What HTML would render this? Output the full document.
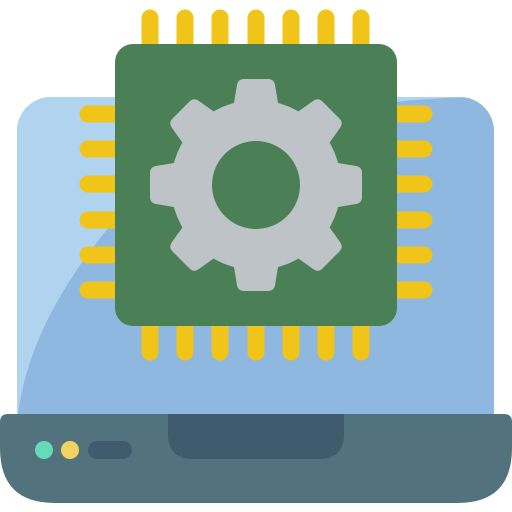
<!DOCTYPE html>
<html><head><style>html,body{margin:0;padding:0;background:#fff}svg{display:block}</style></head>
<body>
<svg width="512" height="512" viewBox="0 0 512 512" xmlns="http://www.w3.org/2000/svg">
<defs><clipPath id="scr"><rect x="17" y="97" width="477" height="360" rx="34"/></clipPath></defs>
<rect x="17" y="97" width="477" height="360" rx="34" fill="#8fb8e0"/>
<path d="M0 97 L470 97 Q210 105 115 220 Q30 320 18 414 L0 414 Z" fill="#b0d3ef" clip-path="url(#scr)"/>
<path d="M8 414 H504 Q512 414 512 422 V448 Q512 503 457 503 H55 Q0 503 0 448 V422 Q0 414 8 414 Z" fill="#52737d"/>
<path d="M168 414 H344 V434 Q344 459 319 459 H193 Q168 459 168 434 Z" fill="#3e5c6d"/>
<circle cx="44" cy="450" r="9" fill="#65dbb8"/>
<circle cx="70" cy="450" r="9" fill="#f2d35f"/>
<rect x="88" y="441" width="44" height="18" rx="9" fill="#3e5c6d"/>
<g stroke="#f0c419" stroke-width="17" stroke-linecap="round">
<path d="M150 18V50M185 18V50M220 18V50M256 18V50M291 18V50M326 18V50M361 18V50"/>
<path d="M150 320V352M185 320V352M220 320V352M256 320V352M291 320V352M326 320V352M361 320V352"/>
<path d="M88 114H120M88 149H120M88 184H120M88 220H120M88 255H120M88 290H120"/>
<path d="M392 114H424M392 149H424M392 184H424M392 220H424M392 255H424M392 290H424"/>
</g>
<rect x="115" y="44" width="282" height="282" rx="18" fill="#4b8057"/>
<g fill="#bdc3c7" transform="translate(256,185)">
<circle r="85"/>
<g id="t"><path d="M-24 -70 L-19 -100 Q-18 -106 -12 -106 H12 Q18 -106 19 -100 L24 -70 Z"/></g>
<use href="#t" transform="rotate(45)"/><use href="#t" transform="rotate(90)"/><use href="#t" transform="rotate(135)"/>
<use href="#t" transform="rotate(180)"/><use href="#t" transform="rotate(225)"/><use href="#t" transform="rotate(270)"/><use href="#t" transform="rotate(315)"/>
<circle r="44" fill="#4b8057"/>
</g>
</svg>
</body></html>
